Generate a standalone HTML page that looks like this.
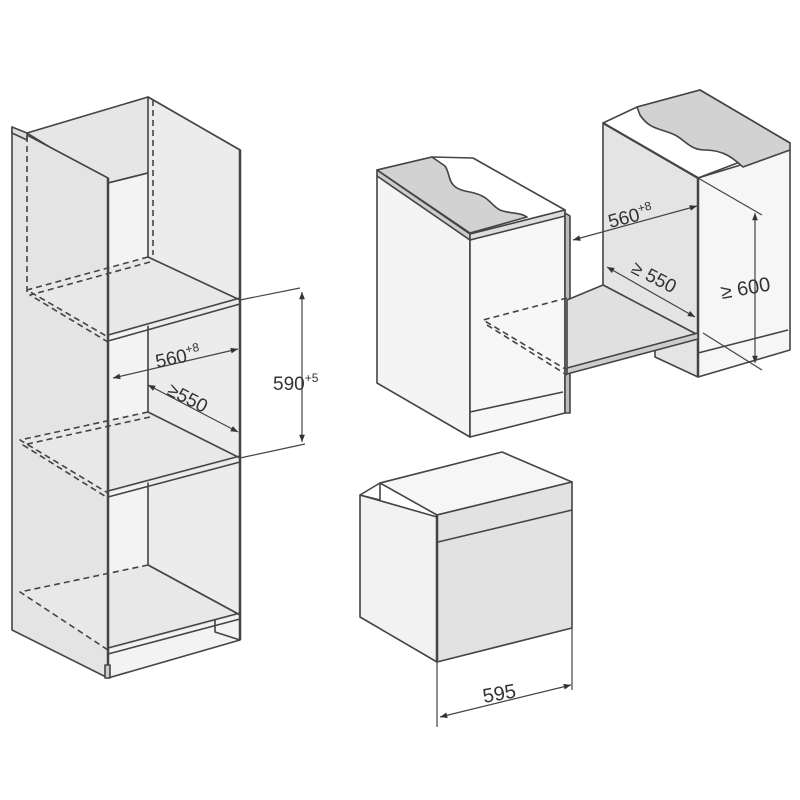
<!DOCTYPE html>
<html><head><meta charset="utf-8"><style>
html,body{margin:0;padding:0;background:#fff}
svg{display:block}
text{font-family:"Liberation Sans",sans-serif;fill:#333}
</style></head><body>
<svg width="800" height="800" viewBox="0 0 800 800" xmlns="http://www.w3.org/2000/svg">
<defs>
<marker id="a" viewBox="0 0 10 10" refX="10" refY="5" markerWidth="8" markerHeight="6" orient="auto-start-reverse"><path d="M0,1 L10,5 L0,9z" fill="#333"/></marker>
</defs>
<g stroke="#444" stroke-width="1.6" fill="none" stroke-linejoin="round">
<!-- TALL CABINET -->
<polygon points="27,133 148,97 240,150 108,183" fill="#e6e6e6"/>
<polygon points="108,183 240,150 240,640 108,678" fill="#f3f3f3"/>
<polygon points="148,97 148,565 240,615 240,150" fill="#ececec"/>
<polygon points="12,127 108,178 108,678 12,630" fill="#e4e4e4"/>
<polygon points="12,127 27,133 27,140 12,133" fill="#ddd"/>
<polygon points="148,257 240,300 108,337 27,290" fill="#e8e8e8" stroke="none"/>
<polygon points="148,412 240,458 108,493 20,440" fill="#e8e8e8" stroke="none"/>
<polygon points="148,565 240,615 108,650 20,592" fill="#e8e8e8" stroke="none"/>
<line x1="148" y1="257" x2="240" y2="300"/>
<line x1="148" y1="412" x2="240" y2="458"/>
<line x1="148" y1="565" x2="240" y2="615"/>
<polyline points="108,335 240,298 240,304 108,341"/>
<polyline points="108,491 240,456 240,462 108,497"/>
<polyline points="108,648 240,613 240,619 108,654"/>
<g stroke-dasharray="6,4">
<line x1="27" y1="136" x2="27" y2="292"/>
<line x1="153" y1="100" x2="153" y2="255"/>
<polyline points="148,257 27,290 108,337"/>
<polyline points="150,262 30,295 108,342"/>
<polyline points="148,412 20,440 108,493"/>
<polyline points="150,417 23,445 108,498"/>
<polyline points="148,565 20,592 108,650"/>
</g>
<line x1="108" y1="178" x2="108" y2="678" stroke-width="2.5"/>
<line x1="240" y1="150" x2="240" y2="640" stroke-width="2.5"/>
<polyline points="215,620 215,632 240,640"/>
<polygon points="105,665 110,665 110,678 105,678" fill="#ccc"/>
<line x1="240" y1="300" x2="300" y2="288" stroke-width="1.2"/>
<line x1="240" y1="458" x2="305" y2="444" stroke-width="1.2"/>
<line x1="302" y1="292" x2="302" y2="442" stroke-width="1.2" marker-start="url(#a)" marker-end="url(#a)"/>
<line x1="113" y1="378" x2="238" y2="349" stroke-width="1.2" marker-start="url(#a)" marker-end="url(#a)"/>
<line x1="148" y1="385" x2="238" y2="432" stroke-width="1.2" marker-start="url(#a)" marker-end="url(#a)"/>
<!-- LEFT COUNTER CABINET -->
<polygon points="377,175 470,240 470,437 377,383" fill="#f4f4f4"/>
<polygon points="470,240 565,213 565,413 470,437" fill="#f7f7f7"/>
<polyline points="470,412 563,392"/>
<polygon points="377,170 432,157 473,158 565,210 470,234" fill="#fff"/>
<path d="M377,170 L432,157 L445,166 C452,176 445,188 470,192 C490,196 490,205 500,210 C510,214 520,212 527,217 L470,233 Z" fill="#d2d2d2"/>
<polygon points="377,170 470,234 470,240 377,176" fill="#ccc"/>
<polygon points="470,234 565,210 565,216 470,240" fill="#ddd"/>
<polygon points="565,213 570,216 570,413 565,413" fill="#bbb"/>
<!-- RIGHT CABINET -->
<polygon points="603,123 698,178 698,335 603,285" fill="#e4e4e4"/>
<polygon points="698,178 790,150 790,350 698,377" fill="#f6f6f6"/>
<polygon points="655,338 698,335 698,377 655,357" fill="#e4e4e4"/>
<polyline points="698,353 788,330"/>
<polygon points="603,123 637,107 700,90 790,143 698,178" fill="#fff"/>
<path d="M637,107 L700,90 L790,143 L790,150 L743,167 C735,160 725,150 705,150 C690,150 685,140 675,135 C660,128 650,130 640,115 Z" fill="#d2d2d2"/>
<line x1="603" y1="123" x2="698" y2="178" stroke-width="2.2"/>
<line x1="698" y1="178" x2="698" y2="377" stroke-width="2.5"/>
<polygon points="567,300 603,285 698,335 567,370" fill="#e0e0e0"/>
<polygon points="567,368 698,333 698,339 567,374" fill="#ccc"/>
<g stroke-dasharray="6,4"><polyline points="567,298 483,320 567,370"/><polyline points="487,325 567,375"/></g>
<line x1="573" y1="240" x2="697" y2="206" stroke-width="1.2" marker-start="url(#a)" marker-end="url(#a)"/>
<line x1="607" y1="267" x2="695" y2="317" stroke-width="1.2" marker-start="url(#a)" marker-end="url(#a)"/>
<line x1="698" y1="178" x2="762" y2="215" stroke-width="1.2"/>
<line x1="703" y1="333" x2="762" y2="370" stroke-width="1.2"/>
<line x1="755" y1="213" x2="755" y2="363" stroke-width="1.2" marker-start="url(#a)" marker-end="url(#a)"/>
<!-- OVEN -->
<polygon points="360,495 437,517 437,662 360,617" fill="#f2f2f2"/>
<polygon points="380,483 502,452 572,482 437,515" fill="#f6f6f6"/>
<polygon points="360,495 380,483 380,500" fill="#fff"/>
<polygon points="437,515 572,482 572,628 437,662" fill="#e2e2e2"/>
<line x1="438" y1="542" x2="572" y2="510"/>
<line x1="437" y1="515" x2="437" y2="662" stroke-width="2.5"/>
<line x1="437" y1="662" x2="437" y2="727" stroke-width="1.2"/>
<line x1="572" y1="628" x2="572" y2="690" stroke-width="1.2"/>
<line x1="440" y1="717" x2="571" y2="685" stroke-width="1.2" marker-start="url(#a)" marker-end="url(#a)"/>
</g>
<text x="157" y="368" font-size="19" transform="rotate(-12 157 368)">560<tspan font-size="12" dy="-8">+8</tspan></text>
<text x="166" y="394" font-size="19" transform="rotate(27 166 394)">≥550</text>
<text x="273" y="390" font-size="19">590<tspan font-size="12" dy="-8">+5</tspan></text>
<text x="610" y="228" font-size="19" transform="rotate(-14 610 228)">560<tspan font-size="12" dy="-8">+8</tspan></text>
<text x="630" y="272" font-size="19" transform="rotate(27 630 272)">≥ 550</text>
<text x="722" y="299" font-size="20" transform="rotate(-10 722 299)">≥ 600</text>
<text x="484" y="703" font-size="20" transform="rotate(-10 484 703)">595</text>
</svg>
</body></html>
